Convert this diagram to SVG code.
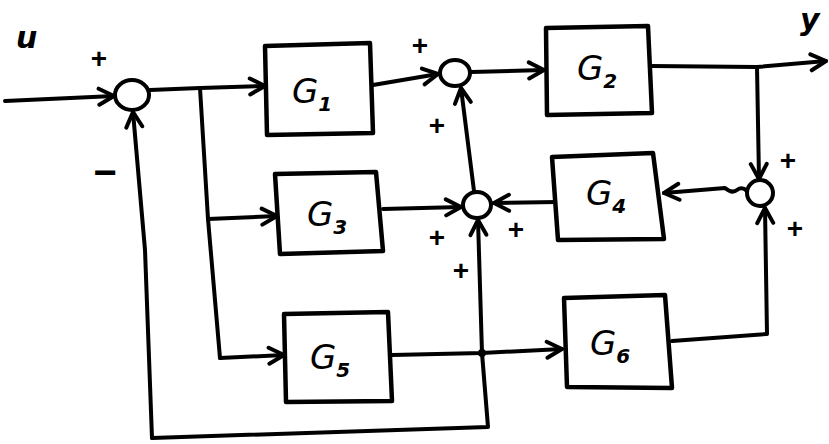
<svg xmlns="http://www.w3.org/2000/svg" width="829" height="444" viewBox="0 0 829 444">
<style>
.ln{fill:none;stroke:#000;stroke-width:4;stroke-linecap:round;stroke-linejoin:round}
.box{fill:#fff;stroke:#000;stroke-width:4.5;stroke-linejoin:round}
.sum{fill:#fff;stroke:#000;stroke-width:4}
.g{font-family:"DejaVu Sans","Liberation Sans",sans-serif;font-style:oblique;font-size:34px;fill:#000}
.sub{font-size:20px;font-weight:bold}
.sg{font-family:"Liberation Sans",sans-serif;font-size:28px;font-weight:bold;fill:#000;text-anchor:middle;dominant-baseline:central}
.lbl{font-family:"DejaVu Sans","Liberation Sans",sans-serif;font-style:oblique;font-size:30px;font-weight:bold;fill:#000}
</style>
<defs>
<marker id="arr" markerUnits="userSpaceOnUse" markerWidth="22" markerHeight="22" viewBox="0 0 22 22" refX="18" refY="11" orient="auto">
<path d="M3,3 L18,11 L3,19" fill="none" stroke="#000" stroke-width="4" stroke-linecap="round" stroke-linejoin="round"/>
</marker>
</defs>
<rect width="829" height="444" fill="#fff"/>
<g id="connectors">
<path class="ln" d="M5,101 L114,96" marker-end="url(#arr)"/>
<path class="ln" d="M150,90 L200,88 L265,86" marker-end="url(#arr)"/>
<path class="ln" d="M200,88 L208,219 L220,358"/>
<path class="ln" d="M208,219 L277,216" marker-end="url(#arr)"/>
<path class="ln" d="M220,358 L284,355" marker-end="url(#arr)"/>
<path class="ln" d="M373,85 L438,74" marker-end="url(#arr)"/>
<path class="ln" d="M471,72 L544,70" marker-end="url(#arr)"/>
<path class="ln" d="M651,66 L757,67 L826,61" marker-end="url(#arr)"/>
<path class="ln" d="M757,67 L759,179" marker-end="url(#arr)"/>
<path class="ln" d="M747,191 q-5,-5 -10,-1 q-5,4 -12,-2 L664,193" marker-end="url(#arr)"/>
<path class="ln" d="M557,202 L494,203" marker-end="url(#arr)"/>
<path class="ln" d="M383,209 L461,207" marker-end="url(#arr)"/>
<path class="ln" d="M474,191 L461,88" marker-end="url(#arr)"/>
<path class="ln" d="M392,355 L482,353 L562,349" marker-end="url(#arr)"/>
<path class="ln" d="M152,438 L488,427 L482,353 L478,220" marker-end="url(#arr)"/>
<path class="ln" d="M152,438 L145,250 L133,112" marker-end="url(#arr)"/>
<path class="ln" d="M672,341 L767,334 L765,208" marker-end="url(#arr)"/>
<circle cx="482" cy="353" r="4" fill="#000"/>
</g>
<g id="S1"><ellipse class="sum" cx="132" cy="95" rx="17" ry="15"/></g>
<g id="S2"><ellipse class="sum" cx="455" cy="73" rx="15" ry="13"/></g>
<g id="S3"><ellipse class="sum" cx="477" cy="205" rx="14" ry="13"/></g>
<g id="S4"><ellipse class="sum" cx="760" cy="193" rx="13" ry="13"/></g>
<g id="G1"><path class="box" d="M265,46 L370,43 L373,133 L267,135 Z"/><text class="g" x="292" y="103">G<tspan class="sub" dy="8">1</tspan></text></g>
<g id="G2"><path class="box" d="M546,28 L648,26 L652,113 L547,115 Z"/><text class="g" x="577" y="80">G<tspan class="sub" dy="8">2</tspan></text></g>
<g id="G3"><path class="box" d="M275,174 L376,172 L383,251 L280,254 Z"/><text class="g" x="307" y="226">G<tspan class="sub" dy="8">3</tspan></text></g>
<g id="G4"><path class="box" d="M552,157 L653,153 L664,239 L558,240 Z"/><text class="g" x="586" y="205">G<tspan class="sub" dy="8">4</tspan></text></g>
<g id="G5"><path class="box" d="M284,314 L388,312 L392,401 L286,402 Z"/><text class="g" x="310" y="369">G<tspan class="sub" dy="8">5</tspan></text></g>
<g id="G6"><path class="box" d="M564,298 L665,295 L672,388 L567,387 Z"/><text class="g" x="590" y="355">G<tspan class="sub" dy="8">6</tspan></text></g>
<g id="labels">
<text class="lbl" x="16" y="48">u</text>
<text class="lbl" x="800" y="30">y</text>
<text class="sg" x="99" y="58">+</text>
<text class="sg" x="105" y="172" style="font-size:40px">−</text>
<text class="sg" x="420" y="45">+</text>
<text class="sg" x="437" y="125">+</text>
<text class="sg" x="437" y="237">+</text>
<text class="sg" x="516" y="229">+</text>
<text class="sg" x="461" y="270">+</text>
<text class="sg" x="788" y="160">+</text>
<text class="sg" x="795" y="228">+</text>
</g>
</svg>
